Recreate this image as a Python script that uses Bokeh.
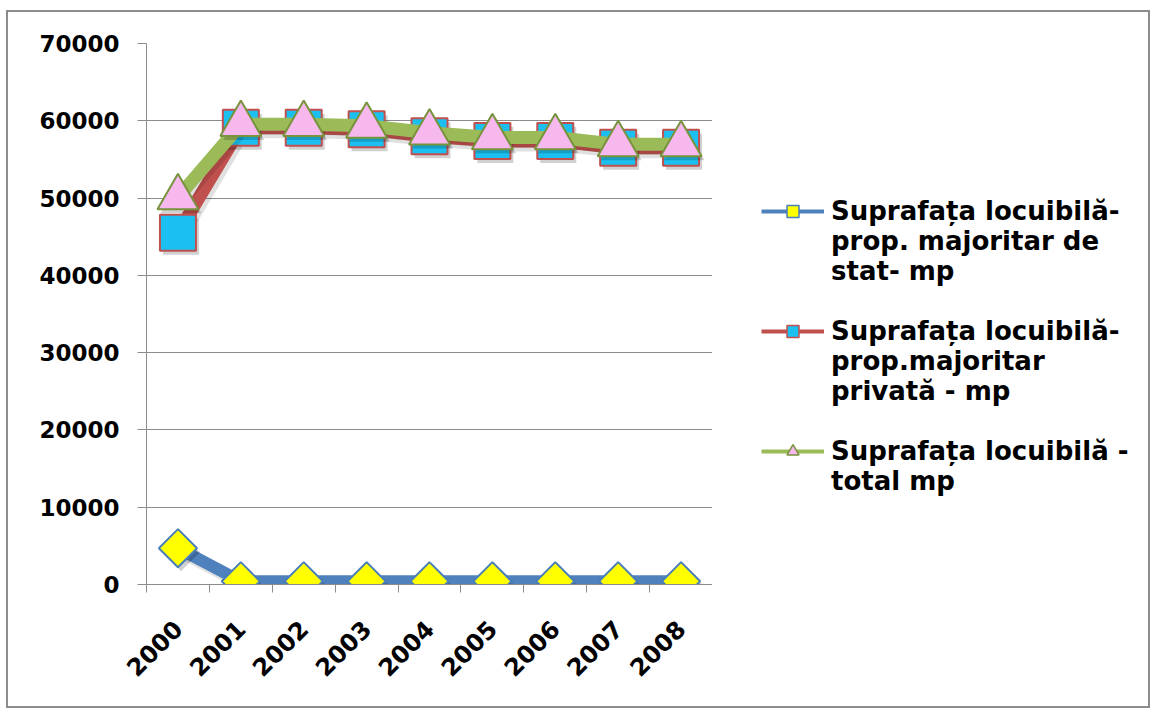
from math import pi
from bokeh.plotting import figure
from bokeh.layouts import row
from bokeh.models import (Range1d, FixedTicker, NumeralTickFormatter, Legend,
                          LegendItem, ColumnDataSource)
from bokeh.embed import file_html
from bokeh.resources import INLINE

years = ["2000", "2001", "2002", "2003", "2004", "2005", "2006", "2007", "2008"]
state = [4700, 420, 420, 420, 420, 420, 420, 420, 420]
private = [45500, 59100, 59100, 58900, 58000, 57400, 57400, 56500, 56500]
total = [50100, 59550, 59550, 59350, 58450, 57850, 57850, 56950, 56950]
y_ticks = [0, 10000, 20000, 30000, 40000, 50000, 60000, 70000]
series_labels = [
    "Suprafața locuibilă-\nprop. majoritar de\nstat- mp",
    "Suprafața locuibilă-\nprop.majoritar\nprivată - mp",
    "Suprafața locuibilă -\ntotal mp",
]

xs = [i + 0.5 for i in range(len(years))]
src = ColumnDataSource(dict(x=xs, state=state, private=private, total=total))

H = 694
FRAME_W, FRAME_H = 566, 541
YMAX = 70000
NX = len(years)

p = figure(width=704, height=H, output_backend="svg", toolbar_location=None,
           x_range=Range1d(0, NX), y_range=Range1d(0, YMAX),
           min_border_left=138, min_border_top=31, min_border_right=0,
           min_border_bottom=122)
p.outline_line_color = None
p.background_fill_color = "white"
p.border_fill_color = "white"

# shifted ranges used only to draw soft drop shadows a few pixels right/down
sdx = 3 * NX / FRAME_W
sdy = 4 * YMAX / FRAME_H
p.extra_x_ranges = {"sh": Range1d(-sdx, NX - sdx)}
p.extra_y_ranges = {"sh": Range1d(sdy, YMAX + sdy)}

GRID = "#8c8c8c"
FONT = "DejaVu Sans"

# axes
p.xgrid.grid_line_color = None
p.ygrid.grid_line_color = GRID
p.ygrid.grid_line_width = 1
p.yaxis.ticker = FixedTicker(ticks=y_ticks)
p.yaxis.formatter = NumeralTickFormatter(format="0")
p.xaxis.ticker = FixedTicker(ticks=xs, minor_ticks=list(range(NX + 1)))
p.xaxis.major_label_overrides = {x: y for x, y in zip(xs, years)}
p.xaxis.major_label_orientation = pi / 4
for ax in (p.xaxis, p.yaxis):
    ax.axis_line_color = GRID
    ax.major_tick_line_color = GRID
    ax.minor_tick_line_color = GRID
    ax.major_label_text_font = FONT
    ax.major_label_text_font_style = "bold"
    ax.major_label_text_color = "black"
p.yaxis.major_label_text_font_size = "23px"
p.xaxis.major_label_text_font_size = "24px"
p.yaxis.major_tick_out = 9
p.yaxis.major_tick_in = 0
p.yaxis.minor_tick_line_color = None
p.yaxis.major_label_standoff = 18
p.xaxis.major_tick_out = 0
p.xaxis.major_tick_in = 0
p.xaxis.minor_tick_out = 8
p.xaxis.minor_tick_in = 0
p.xaxis.major_label_standoff = 32

SH = dict(x_range_name="sh", y_range_name="sh")


def series(col, lcolor, lw, marker, size, fill, mline, angle=0.0):
    p.line("x", col, source=src, line_color="black", line_alpha=0.12,
           line_width=lw, line_join="round", **SH)
    p.line("x", col, source=src, line_color=lcolor, line_width=lw, line_join="round")
    p.scatter("x", col, source=src, marker=marker, angle=angle, size=size,
              fill_color="black", fill_alpha=0.18, line_color=None, **SH)
    p.scatter("x", col, source=src, marker=marker, angle=angle, size=size,
              fill_color=fill, line_color=mline, line_width=2)


series("state", "#4F81BD", 12, "square", 27, "#FFFF00", "#4A7EBB", angle=pi / 4)
series("private", "#C0504D", 13, "square", 36, "#1CC0F0", "#C0504D")
series("total", "#9BBB59", 13, "triangle", 41, "#F7B8EE", "#77933C")

# legend figure
q = figure(width=436, height=H, output_backend="svg", toolbar_location=None,
           x_range=Range1d(0, 1), y_range=Range1d(0, 1),
           min_border_left=0, min_border_top=0, min_border_right=0,
           min_border_bottom=0)
q.axis.visible = False
q.grid.visible = False
q.outline_line_color = None
q.background_fill_color = "white"
q.border_fill_color = "white"

nan_src = ColumnDataSource(dict(x=[float("nan")], y=[float("nan")]))
l1 = q.line("x", "y", source=nan_src, line_color="#4F81BD", line_width=4)
m1 = q.scatter("x", "y", source=nan_src, marker="square", angle=pi / 4, size=12,
               fill_color="#FFFF00", line_color="#4A7EBB", line_width=1.5)
l2 = q.line("x", "y", source=nan_src, line_color="#C0504D", line_width=4)
m2 = q.scatter("x", "y", source=nan_src, marker="square", size=14,
               fill_color="#1CC0F0", line_color="#C0504D", line_width=1.5)
l3 = q.line("x", "y", source=nan_src, line_color="#9BBB59", line_width=4)
m3 = q.scatter("x", "y", source=nan_src, marker="triangle", size=16,
               fill_color="#F7B8EE", line_color="#77933C", line_width=1.5)
glyph_sets = [[l1, m1], [l2, m2], [l3, m3]]

items = []
for k, (lab, rs) in enumerate(zip(series_labels, glyph_sets)):
    lines = lab.split("\n")
    items.append(LegendItem(label=lines[0], renderers=rs))
    for ln in lines[1:]:
        items.append(LegendItem(label=ln, renderers=[]))
    if k < len(series_labels) - 1:
        items.append(LegendItem(label=" ", renderers=[]))

legend = Legend(items=items, location=(49, 88))
legend.border_line_color = None
legend.background_fill_alpha = 0
legend.padding = 0
legend.margin = 0
legend.spacing = 0
legend.glyph_width = 63
legend.glyph_height = 30
legend.label_height = 30
legend.label_standoff = 7
legend.label_text_font = FONT
legend.label_text_font_style = "bold"
legend.label_text_font_size = "26px"
legend.label_text_color = "black"
q.add_layout(legend, "center")

layout = row(p, q, spacing=0)
layout.styles = {"border": "2px solid #8c8c8c", "margin-left": "6px", "margin-top": "10px"}

open("out.html", "w").write(file_html(layout, INLINE))
